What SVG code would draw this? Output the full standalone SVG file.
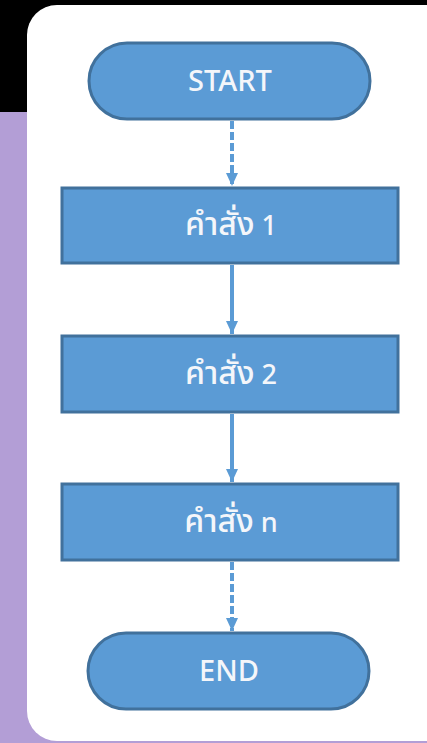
<svg xmlns="http://www.w3.org/2000/svg" width="427" height="743" viewBox="0 0 427 743">
<style>
.term,.proc{fill:#5b9bd5;stroke:#41719c;stroke-width:3}
.lbl{fill:#f4f6fa;font-family:"Noto Sans","Noto Sans Thai","Open Sans","Liberation Sans",sans-serif;text-anchor:middle;font-weight:500}
.t{font-size:29px}
.p{font-size:27px}
.th{font-size:32px}
.conn{stroke:#5b9bd5;stroke-width:4;fill:none}
.dash{stroke-dasharray:8 3}
</style>
<defs>
<marker id="ah" markerUnits="userSpaceOnUse" markerWidth="14" markerHeight="12" refX="13" refY="6" orient="auto">
<path d="M0,0 L13,6 L0,12 Z" fill="#5b9bd5"/>
</marker>
</defs>
<rect x="0" y="0" width="427" height="743" fill="#000"/>
<rect x="0" y="112" width="427" height="631" fill="#b39ed6"/>
<rect x="27" y="5" width="440" height="736" rx="30" fill="#fff"/>
<g id="connectors">
<path class="conn dash" d="M232,121 V186" marker-end="url(#ah)"/>
<path class="conn" d="M232,265 V334" marker-end="url(#ah)"/>
<path class="conn" d="M232,414 V482" marker-end="url(#ah)"/>
<path class="conn dash" d="M232,562 V631" marker-end="url(#ah)"/>
</g>
<g id="start">
<rect class="term" x="89" y="43" width="281" height="76" rx="38"/>
<text class="lbl t" x="230" y="91">START</text>
</g>
<g id="step1">
<rect class="proc" x="62" y="188" width="336" height="75"/>
<text class="lbl p" x="231" y="235"><tspan class="th">คำสั่ง</tspan> 1</text>
</g>
<g id="step2">
<rect class="proc" x="62" y="336" width="336" height="76"/>
<text class="lbl p" x="231" y="384"><tspan class="th">คำสั่ง</tspan> 2</text>
</g>
<g id="stepn">
<rect class="proc" x="62" y="484" width="336" height="76"/>
<text class="lbl p" x="231" y="532"><tspan class="th">คำสั่ง</tspan> n</text>
</g>
<g id="end">
<rect class="term" x="88" y="633" width="281" height="76" rx="38"/>
<text class="lbl t" x="229" y="681">END</text>
</g>
</svg>
